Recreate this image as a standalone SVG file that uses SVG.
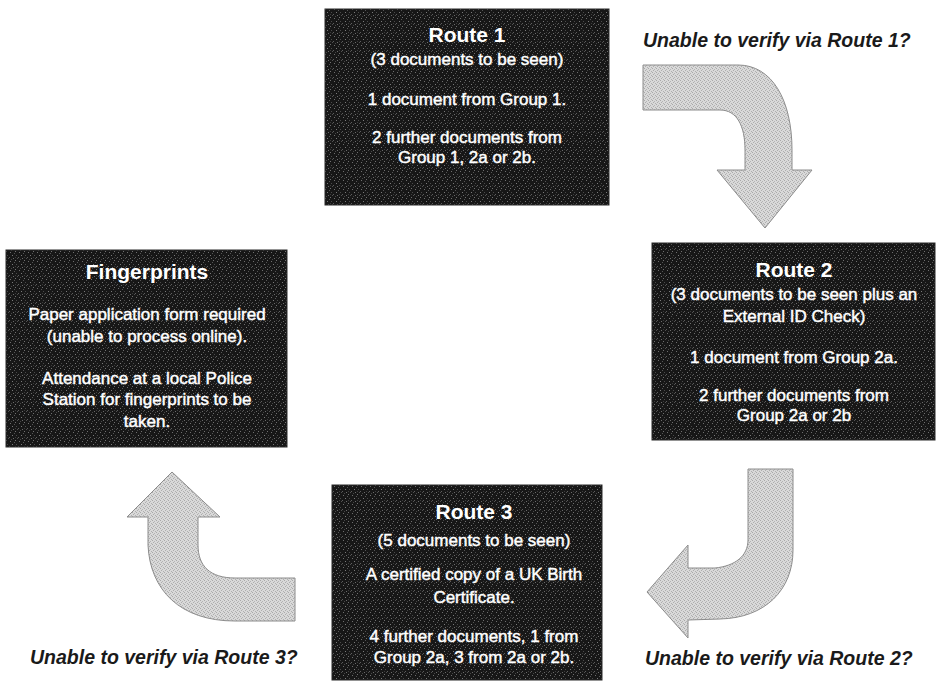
<svg xmlns="http://www.w3.org/2000/svg" width="936" height="682" viewBox="0 0 936 682">
<defs>
<pattern id="darkNoise" width="9" height="9" patternUnits="userSpaceOnUse">
<rect width="9" height="9" fill="#171717"/>
<rect x="1" y="0" width="1" height="1" fill="#6e6e6e"/>
<rect x="5" y="1" width="1" height="1" fill="#555"/>
<rect x="3" y="3" width="1" height="1" fill="#7a7a7a"/>
<rect x="7" y="3" width="1" height="1" fill="#4a4a4a"/>
<rect x="0" y="5" width="1" height="1" fill="#5e5e5e"/>
<rect x="4" y="6" width="1" height="1" fill="#6a6a6a"/>
<rect x="8" y="6" width="1" height="1" fill="#505050"/>
<rect x="2" y="7" width="1" height="1" fill="#474747"/>
<rect x="6" y="8" width="1" height="1" fill="#707070"/>
<rect x="6" y="5" width="1" height="1" fill="#3c3c3c"/>
</pattern>
<pattern id="lightNoise" width="4" height="4" patternUnits="userSpaceOnUse">
<rect width="4" height="4" fill="#d9d9d9"/>
<rect x="0" y="0" width="1" height="1" fill="#a9a9a9"/>
<rect x="2" y="1" width="1" height="1" fill="#b4b4b4"/>
<rect x="1" y="2" width="1" height="1" fill="#adadad"/>
<rect x="3" y="3" width="1" height="1" fill="#b0b0b0"/>
</pattern>
<style>
.box{fill:url(#darkNoise);stroke:#2a2a2a;stroke-width:1}
.t{font-family:"Liberation Sans",Arial,sans-serif;fill:#ffffff;text-anchor:middle}
.title{font-size:21px;font-weight:bold}
.body{font-size:17px;stroke:#ffffff;stroke-width:0.45}
.arrow{fill:url(#lightNoise);stroke:#8c8c8c;stroke-width:1}
.lbl{font-family:"Liberation Sans",Arial,sans-serif;font-size:19.5px;font-weight:bold;font-style:italic;fill:#1a1a1a}
</style>
</defs>
<rect width="936" height="682" fill="#ffffff"/>

<g id="node-route1">
<rect class="box" x="325" y="9" width="284" height="196"/>
<text class="t title" x="467" y="42">Route 1</text>
<text class="t body" x="467" y="65">(3 documents to be seen)</text>
<text class="t body" x="467" y="105">1 document from Group 1.</text>
<text class="t body" x="467" y="143">2 further documents from</text>
<text class="t body" x="467" y="163">Group 1, 2a or 2b.</text>
</g>

<g id="node-route2">
<rect class="box" x="652" y="243" width="283" height="197"/>
<text class="t title" x="794" y="277">Route 2</text>
<text class="t body" x="794" y="300">(3 documents to be seen plus an</text>
<text class="t body" x="794" y="322">External ID Check)</text>
<text class="t body" x="794" y="363">1 document from Group 2a.</text>
<text class="t body" x="794" y="401">2 further documents from</text>
<text class="t body" x="794" y="421">Group 2a or 2b</text>
</g>

<g id="node-route3">
<rect class="box" x="332" y="485" width="270" height="195"/>
<text class="t title" x="474" y="519">Route 3</text>
<text class="t body" x="474" y="546">(5 documents to be seen)</text>
<text class="t body" x="474" y="580">A certified copy of a UK Birth</text>
<text class="t body" x="474" y="603">Certificate.</text>
<text class="t body" x="474" y="642">4 further documents, 1 from</text>
<text class="t body" x="474" y="663">Group 2a, 3 from 2a or 2b.</text>
</g>

<g id="node-fingerprints">
<rect class="box" x="6" y="250" width="281" height="197"/>
<text class="t title" x="147" y="279">Fingerprints</text>
<text class="t body" x="147" y="320">Paper application form required</text>
<text class="t body" x="147" y="342">(unable to process online).</text>
<text class="t body" x="147" y="384">Attendance at a local Police</text>
<text class="t body" x="147" y="405">Station for fingerprints to be</text>
<text class="t body" x="147" y="427">taken.</text>
</g>

<g id="connectors">
<g id="edge-route1-route2">
<path class="arrow" d="M643,65 L738,65 C772,65 792,100 792,150 L792,170 L812,170 L765,228 L717,170 L745,170 L745,150 C745,126 737,110 720,110 L643,110 Z"/>
<text class="lbl" x="643" y="47">Unable to verify via Route 1?</text>
</g>
<g id="edge-route2-route3">
<path class="arrow" d="M748,469 L793,469 L793,550 C793,590 765,618 720,619 L688,620 L688,638 L647,592 L688,545 L688,568 L715,568 C735,566 748,556 748,540 Z"/>
<text class="lbl" x="645" y="665">Unable to verify via Route 2?</text>
</g>
<g id="edge-route3-fingerprints">
<path class="arrow" d="M172,472 L220,517 L198,517 L198,545 C198,566 210,578 235,578 L295,578 L295,621 L235,621 C180,621 150,590 148,545 L148,517 L127,517 Z"/>
<text class="lbl" x="30" y="664">Unable to verify via Route 3?</text>
</g>
</g>
</svg>
